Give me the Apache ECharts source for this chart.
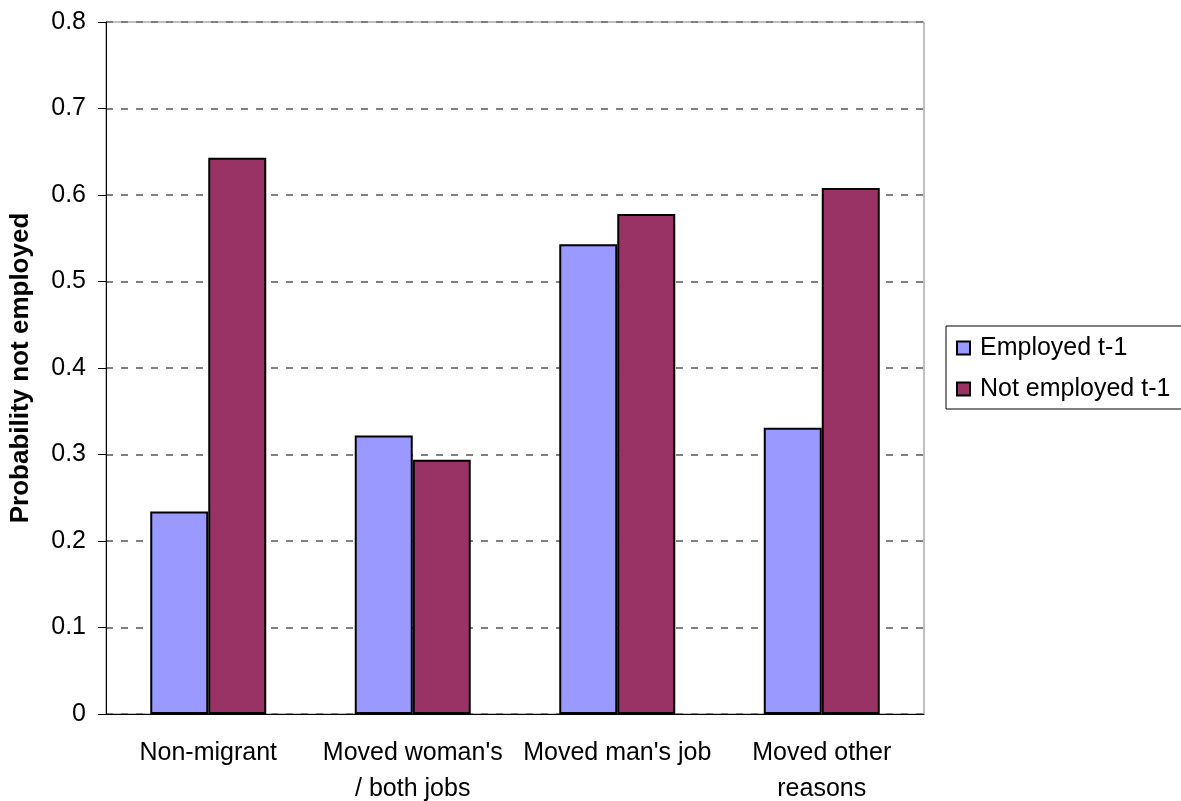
<!DOCTYPE html>
<html>
<head>
<meta charset="utf-8">
<script src="https://cdn.jsdelivr.net/npm/echarts@6/dist/echarts.min.js"></script>
<style>
  html, body { margin: 0; padding: 0; background: #fff; }
  #chart { width: 1181px; height: 801px; }
</style>
</head>
<body>
<div id="chart"></div>
<script>
// 数据
const categories = ["Non-migrant", "Moved woman's\n/ both jobs", "Moved man's job", "Moved other\nreasons"];
const employed = [0.234, 0.322, 0.543, 0.331];
const notEmployed = [0.643, 0.294, 0.578, 0.608];

const font = "'Liberation Sans', Arial, sans-serif";

let myChart = echarts.init(document.getElementById("chart"));
let option = {
    animation: false,
    color: ["#9999FF", "#993366"],
    textStyle: { fontFamily: font },
    grid: {
        left: 106,
        right: 257,
        top: 22,
        bottom: 87,
        outerBoundsMode: "none",
        containLabel: false,
        show: true,
        borderColor: "#808080",
        borderWidth: 1,
        backgroundColor: "#fff",
    },
    legend: {
        orient: "vertical",
        left: 946,
        top: 326,
        padding: [8, 30, 6, 10],
        borderColor: "#000",
        borderWidth: 1,
        itemWidth: 13,
        itemHeight: 13,
        itemGap: 13,
        icon: "rect",
        itemStyle: { borderColor: "#000", borderWidth: 2 },
        textStyle: {
            fontFamily: font,
            fontSize: 25,
            color: "#000",
            lineHeight: 28,
            padding: [0, 0, 0, 5],
        },
        data: ["Employed t-1", "Not employed t-1"],
    },
    xAxis: {
        type: "category",
        data: categories,
        axisLine: { lineStyle: { color: "#000", width: 1 } },
        axisTick: { length: 8, lineStyle: { color: "#000" } },
        axisLabel: {
            color: "#000",
            fontFamily: font,
            fontSize: 25,
            lineHeight: 36,
            margin: 21,
            interval: 0,
        },
    },
    yAxis: {
        type: "value",
        min: 0,
        max: 0.8,
        interval: 0.1,
        name: "Probability not employed",
        nameLocation: "middle",
        nameGap: 72,
        nameTextStyle: {
            fontFamily: font,
            fontSize: 26,
            fontWeight: "bold",
            color: "#000",
        },
        axisLine: { show: true, lineStyle: { color: "#000", width: 1 } },
        axisTick: { show: true, length: 8, lineStyle: { color: "#000" } },
        axisLabel: {
            color: "#000",
            fontFamily: font,
            fontSize: 25,
            margin: 20,
        },
        splitLine: {
            lineStyle: { color: "#808080", width: 2, type: [7, 8] },
        },
    },
    series: [
        {
            name: "Employed t-1",
            type: "bar",
            data: employed,
            barWidth: 58,
            barGap: "0%",
            itemStyle: { borderColor: "#000", borderWidth: 2 },
        },
        {
            name: "Not employed t-1",
            type: "bar",
            data: notEmployed,
            barWidth: 58,
            barGap: "0%",
            itemStyle: { borderColor: "#000", borderWidth: 2 },
        },
    ],
};
myChart.setOption(option);
window.addEventListener("resize", function () {
    myChart.resize();
});
</script>
</body>
</html>
